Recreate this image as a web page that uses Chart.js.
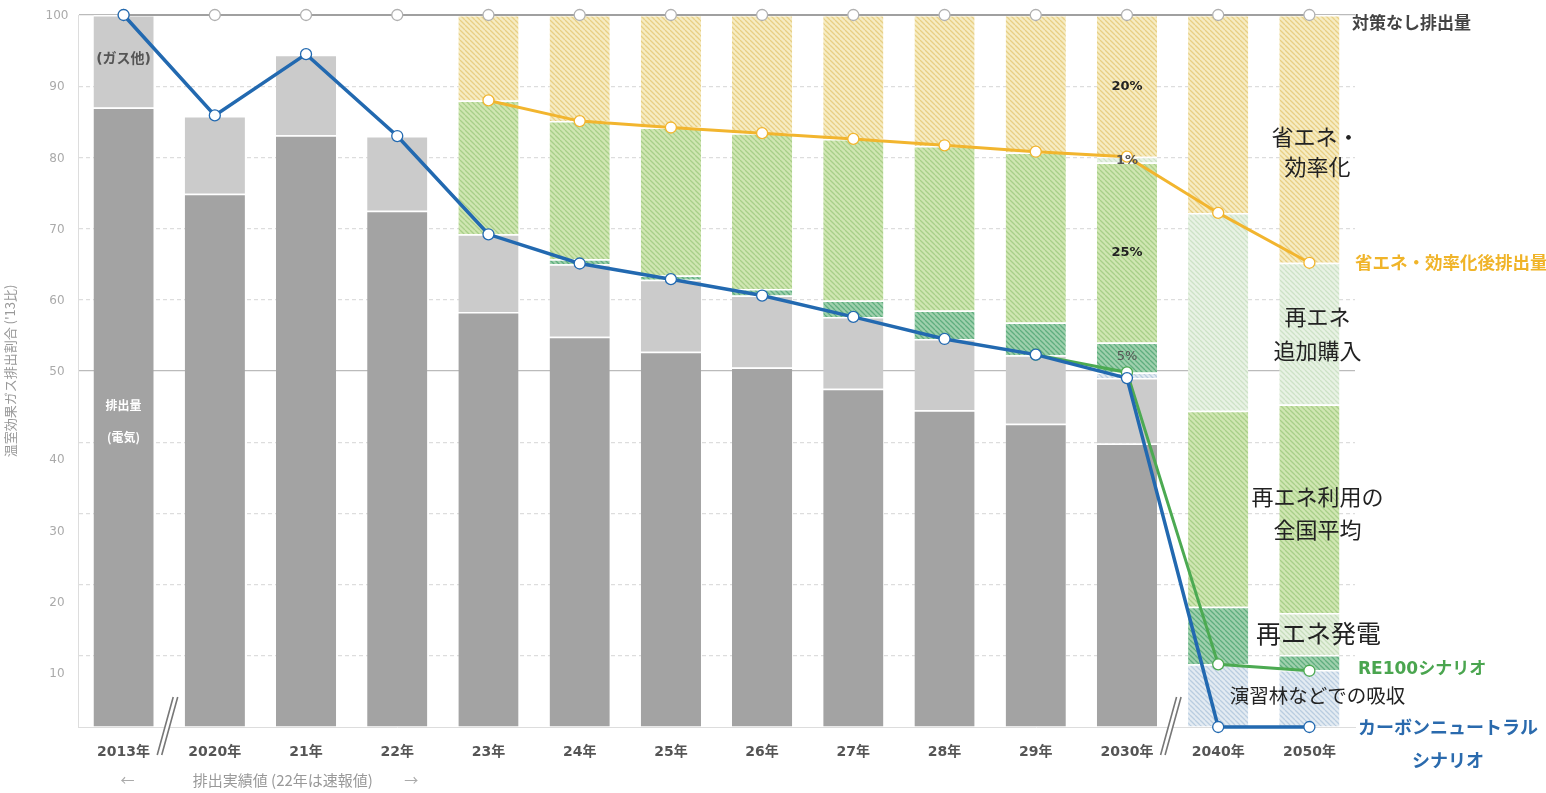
<!DOCTYPE html>
<html lang="ja">
<head>
<meta charset="utf-8">
<title>温室効果ガス排出割合</title>
<script src="https://cdn.jsdelivr.net/npm/chart.js@4.4.1/dist/chart.umd.min.js"></script>
<style>
  html, body { margin: 0; padding: 0; background: #fff; }
  #wrap { width: 1546px; height: 793px; }
</style>
</head>
<body>
<div id="wrap"><canvas id="chart" width="1546" height="793"></canvas></div>
<script>
// categories (x axis)
const categories = ['2013年', '2020年', '21年', '22年', '23年', '24年', '25年', '26年', '27年', '28年', '29年', '2030年', '2040年', '2050年'];
const yTickLabels = [10, 20, 30, 40, 50, 60, 70, 80, 90, 100];

// stacked bar segments (heights, '13 = 100)
const electricity = [87.0, 74.9, 83.1, 72.5, 58.3, 54.8, 52.7, 50.5, 47.5, 44.5, 42.6, 39.8, 0, 0];
const gasOther    = [13.0, 10.9, 11.3, 10.5, 10.9, 10.2, 10.1, 10.1, 10.1, 10.0, 9.6, 9.2, 0, 0];
const absorption  = [0, 0, 0, 0, 0, 0, 0, 0, 0, 0, 0, 0.8, 8.8, 8.0];
const reGen       = [0, 0, 0, 0, 0, 0.7, 0.6, 0.9, 2.3, 4.0, 4.6, 4.2, 8.1, 2.1];
const reGenLight  = [0, 0, 0, 0, 0, 0, 0, 0, 0, 0, 0, 0, 0, 5.9];
const reAverage   = [0, 0, 0, 0, 18.8, 19.4, 20.8, 21.9, 22.7, 23.1, 23.9, 25.3, 27.5, 29.3];
const rePurchase  = [0, 0, 0, 0, 0, 0, 0, 0, 0, 0, 0, 0.8, 27.8, 19.9];
const saving      = [0, 0, 0, 0, 12.0, 14.9, 15.8, 16.6, 17.4, 18.4, 19.3, 19.9, 27.8, 34.8];

// lines
const noMeasure   = [100, 100, 100, 100, 100, 100, 100, 100, 100, 100, 100, 100, 100, 100];
const afterSaving = [null, null, null, null, 88.0, 85.1, 84.2, 83.4, 82.6, 81.7, 80.8, 80.1, 72.2, 65.2];
const re100       = [null, null, null, null, null, null, null, null, null, null, 52.3, 49.8, 8.8, 7.9];
const carbonNeutral = [100, 85.9, 94.5, 83.0, 69.2, 65.1, 62.9, 60.6, 57.6, 54.5, 52.3, 49.0, 0, 0];

const JP = '"Noto Sans CJK JP", sans-serif';
const MIX = '"DejaVu Sans", "Noto Sans CJK JP", sans-serif';

function hatch(bg, fg) {
    const s = 5;
    const c = document.createElement('canvas');
    c.width = s; c.height = s;
    const g = c.getContext('2d');
    g.fillStyle = bg;
    g.fillRect(0, 0, s, s);
    g.strokeStyle = fg;
    g.lineWidth = 1.3;
    g.beginPath();
    for (let k = -1; k <= 1; k++) {
        g.moveTo(k * s, 0);
        g.lineTo(k * s + s, s);
    }
    g.stroke();
    return g.createPattern(c, 'repeat');
}

function bar(label, data, color) {
    return {
        type: 'bar', label: label, data: data, stack: 'bars', order: 10,
        backgroundColor: color,
        borderColor: 'rgba(255,255,255,0.9)',
        borderWidth: {top: 1.5, left: 0, right: 0, bottom: 0},
        borderSkipped: false,
        barPercentage: 0.66, categoryPercentage: 1
    };
}

function line(label, data, color, width, markerBorder, order) {
    return {
        type: 'line', label: label, data: data, stack: label, order: order,
        borderColor: color, borderWidth: width,
        pointRadius: 5.5, pointBackgroundColor: '#fff',
        pointBorderColor: markerBorder, pointBorderWidth: 1.3,
        tension: 0, clip: false
    };
}

// y tick labels (drawn by hand: the lower ones sit a bit below their grid line)
const yLabels = {
    id: 'yLabels',
    afterDraw(chart) {
        const {ctx, scales: {y}} = chart;
        ctx.save();
        ctx.font = '12px "DejaVu Sans", sans-serif';
        ctx.fillStyle = '#aaa';
        ctx.textAlign = 'center';
        ctx.textBaseline = 'middle';
        for (const v of yTickLabels) {
            ctx.fillText(String(v), 57, y.getPixelForValue(v) + (v <= 40 ? 18 : 1));
        }
        ctx.restore();
    }
};

// axis break marks "//"
const breaks = {
    id: 'breaks',
    afterDraw(chart) {
        const {ctx, scales: {x}, chartArea} = chart;
        const base = chartArea.bottom;
        for (const i of [0, 11]) {
            const mx = (x.getPixelForValue(i) + x.getPixelForValue(i + 1)) / 2 - 2;
            ctx.save();
            ctx.beginPath();
            ctx.moveTo(mx - 10, base + 28);
            ctx.lineTo(mx + 6, base - 30);
            ctx.lineTo(mx + 10.5, base - 30);
            ctx.lineTo(mx - 5.5, base + 28);
            ctx.closePath();
            ctx.fillStyle = '#fff';
            ctx.fill();
            ctx.strokeStyle = '#777';
            ctx.lineWidth = 1.6;
            ctx.beginPath();
            ctx.moveTo(mx - 10, base + 28);
            ctx.lineTo(mx + 6, base - 30);
            ctx.moveTo(mx - 5.5, base + 28);
            ctx.lineTo(mx + 10.5, base - 30);
            ctx.stroke();
            ctx.restore();
        }
    }
};

const notes = {
    id: 'notes',
    afterDatasetsDraw(chart) {
        const {ctx, scales: {x, y}, chartArea} = chart;
        const put = (text, px, py, font, color, align) => {
            ctx.font = font;
            ctx.fillStyle = color;
            ctx.textAlign = align || 'center';
            ctx.fillText(text, px, py);
        };
        ctx.save();
        ctx.textBaseline = 'middle';
        const r = chartArea.right;
        const cx = x.getPixelForValue(13);

        put('(ガス他)', x.getPixelForValue(0), y.getPixelForValue(93.7), 'bold 14px ' + MIX, '#555');
        put('排出量', x.getPixelForValue(0), y.getPixelForValue(45.2), 'bold 12px ' + JP, '#fff');
        put('(電気)', x.getPixelForValue(0), y.getPixelForValue(40.7), 'bold 12px ' + JP, '#fff');

        const x30 = x.getPixelForValue(11);
        put('20%', x30, y.getPixelForValue(90.0), 'bold 13px ' + MIX, '#222');
        put('1%', x30, y.getPixelForValue(79.6), 'bold 13px ' + MIX, '#555');
        put('25%', x30, y.getPixelForValue(66.6), 'bold 13px ' + MIX, '#222');
        put('5%', x30, y.getPixelForValue(52.0), '13px ' + MIX, '#555');

        put('対策なし排出量', r - 3, y.getPixelForValue(99.0), 'bold 17px ' + JP, '#444', 'left');
        put('省エネ・', cx + 6, y.getPixelForValue(82.9), '22px ' + JP, '#222');
        put('効率化', cx + 8, y.getPixelForValue(78.7), '22px ' + JP, '#222');
        put('省エネ・効率化後排出量', r, y.getPixelForValue(65.3), 'bold 17.5px ' + JP, '#f0b429', 'left');
        put('再エネ', cx + 8, y.getPixelForValue(57.6), '22px ' + JP, '#222');
        put('追加購入', cx + 8, y.getPixelForValue(52.9), '22px ' + JP, '#222');
        put('再エネ利用の', cx + 8, y.getPixelForValue(32.3), '22px ' + JP, '#222');
        put('全国平均', cx + 8, y.getPixelForValue(27.7), '22px ' + JP, '#222');
        put('再エネ発電', cx + 9, y.getPixelForValue(13.2), '25px ' + JP, '#222');
        put('RE100シナリオ', r + 3, y.getPixelForValue(8.0), 'bold 17px ' + MIX, '#4aa54f', 'left');
        put('演習林などでの吸収', cx + 8, y.getPixelForValue(4.4), '19.5px ' + JP, '#222');
        put('カーボンニュートラル', r + 3, y.getPixelForValue(0), 'bold 18px ' + JP, '#2a6aad', 'left');
        put('シナリオ', r + 93, y.getPixelForValue(0) + 33, 'bold 18px ' + JP, '#2a6aad');

        const by = chartArea.bottom + 53;
        put('←', x.getPixelForValue(0) + 4, by, '14px ' + JP, '#aaa');
        put('排出実績値 (22年は速報値)', x.getPixelForValue(1) + 68, by, '15px ' + JP, '#999');
        put('→', x.getPixelForValue(3) + 14, by, '14px ' + JP, '#aaa');
        ctx.restore();
    }
};

new Chart(document.getElementById('chart'), {
    data: {
        labels: categories,
        datasets: [
            line('carbonNeutral', carbonNeutral, '#2269b0', 3.5, '#2269b0', 0),
            line('re100', re100, '#4caa52', 3, '#4caa52', 1),
            line('afterSaving', afterSaving, '#f2b52e', 3, '#f2b52e', 2),
            line('noMeasure', noMeasure, '#a0a0a0', 2, '#b0b0b0', 3),
            bar('排出量(電気)', electricity, '#a3a3a3'),
            bar('ガス他', gasOther, '#cbcbcb'),
            bar('演習林などでの吸収', absorption, hatch('#e3ebf2', '#b9cde0')),
            bar('再エネ発電', reGen, hatch('#9fd0ad', '#5fae7e')),
            bar('再エネ発電(2)', reGenLight, hatch('#e5f0de', '#c6ddbb')),
            bar('再エネ利用の全国平均', reAverage, hatch('#d0e6b2', '#a8cf88')),
            bar('再エネ追加購入', rePurchase, hatch('#e8f2e4', '#cde2c6')),
            bar('省エネ・効率化', saving, hatch('#f6ecc3', '#e8cf84'))
        ]
    },
    options: {
        responsive: false,
        animation: false,
        layout: {padding: {top: 15, right: 191, bottom: 0, left: 0}},
        plugins: {legend: {display: false}, tooltip: {enabled: false}},
        scales: {
            x: {
                stacked: true,
                grid: {display: false, drawTicks: false},
                border: {display: true, color: '#ddd'},
                ticks: {
                    autoSkip: false, maxRotation: 0, padding: 17, color: '#555',
                    font: {family: MIX, size: 14, weight: 'bold'}
                },
                afterFit(scale) { scale.height = 66; }
            },
            y: {
                stacked: true,
                min: 0, max: 100,
                ticks: {stepSize: 10, display: false},
                grid: {
                    drawTicks: false,
                    color: ctx => {
                        const v = ctx.tick ? ctx.tick.value : 0;
                        if (v === 0) return 'rgba(0,0,0,0)';
                        return (v === 50 || v === 100) ? '#bbb' : '#ddd';
                    },
                    lineWidth: 1.2
                },
                border: {
                    display: true, color: '#ddd',
                    dash: ctx => (ctx.tick && ctx.tick.value % 50 !== 0) ? [4, 3] : []
                },
                title: {
                    display: true, text: "温室効果ガス排出割合 ('13比)",
                    color: '#999', font: {family: JP, size: 13}, padding: {top: 2, bottom: 0}
                },
                afterFit(scale) { scale.width = 78; }
            }
        }
    },
    plugins: [yLabels, breaks, notes]
});
</script>
</body>
</html>
